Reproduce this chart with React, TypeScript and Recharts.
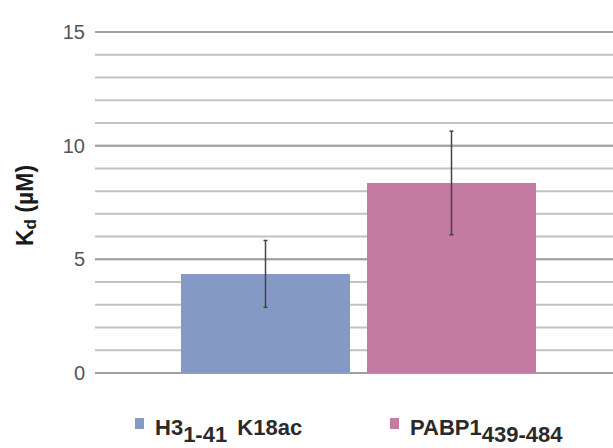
import React from 'react';
import { BarChart, Bar, XAxis, YAxis, CartesianGrid, ErrorBar } from 'recharts';

const categories = ['Kd'];
const h3Values = [4.36];
const h3Errors = [1.47];
const pabpValues = [8.36];
const pabpErrors = [2.28];
const majorTicks = [0, 5, 10, 15];
const minorTicks = [0, 1, 2, 3, 4, 5, 6, 7, 8, 9, 10, 11, 12, 13, 14, 15];
const seriesNames = ['H3', 'PABP1'];
const seriesSubs = ['1-41', '439-484'];
const seriesSuffix = [' K18ac', ''];
const seriesColors = ['#8599c5', '#c57aa1'];

const data = categories.map((c, i) => ({
  name: c,
  h3: h3Values[i],
  h3Err: h3Errors[i],
  pabp: pabpValues[i],
  pabpErr: pabpErrors[i],
}));

const FONT = '"Liberation Sans", Arial, Helvetica, sans-serif';

const YLabel = (props: any) => {
  const vb = props.viewBox || {};
  const cx = 25;
  const cy = (vb.y || 0) + (vb.height || 0) / 2 + 3;
  return (
    <text
      x={cx}
      y={cy}
      transform={`rotate(-90, ${cx}, ${cy})`}
      textAnchor="middle"
      dominantBaseline="central"
      fontFamily={FONT}
      fontWeight="bold"
      fontSize={23}
      fill="#1a1a1a"
    >
      K
      <tspan fontSize={17} dy={5}>d</tspan>
      <tspan dy={-5}> (µM)</tspan>
    </text>
  );
};

const legendX = [135, 390];

export default function App() {
  return (
    <div style={{ position: 'absolute', left: 0, top: 0, width: 613, height: 448, background: '#fff' }}>
      <BarChart
        width={613}
        height={448}
        data={data}
        margin={{ top: 32, right: 0, bottom: 75, left: 0 }}
        barSize={169}
        barGap={17}
      >
        <CartesianGrid vertical={false} stroke="#c2c2c2" strokeWidth={2} />
        <CartesianGrid vertical={false} horizontalValues={majorTicks} stroke="#a0a0a0" strokeWidth={2} />
        <XAxis dataKey="name" hide padding={{ left: 9, right: 0 }} />
        <YAxis
          width={95}
          domain={[0, 15]}
          ticks={minorTicks}
          interval={0}
          tickFormatter={(v: number) => (majorTicks.includes(v) ? String(v) : '')}
          tickSize={0}
          tickMargin={10}
          axisLine={false}
          tickLine={false}
          tick={{ fill: '#555', fontSize: 20, fontFamily: FONT }}
          label={{ content: YLabel }}
        />
        <Bar dataKey="h3" fill={seriesColors[0]} isAnimationActive={false}>
          <ErrorBar dataKey="h3Err" width={2} stroke="#444" strokeWidth={1.5} direction="y" isAnimationActive={false} />
        </Bar>
        <Bar dataKey="pabp" fill={seriesColors[1]} isAnimationActive={false}>
          <ErrorBar dataKey="pabpErr" width={2} stroke="#444" strokeWidth={1.5} direction="y" isAnimationActive={false} />
        </Bar>
      </BarChart>
      <svg width={613} height={448} style={{ position: 'absolute', left: 0, top: 0, pointerEvents: 'none' }}>
        {seriesNames.map((n, i) => (
          <g key={n}>
            <rect x={legendX[i]} y={418} width={9} height={11} fill={seriesColors[i]} />
            <text x={legendX[i] + 20} y={435} fontFamily={FONT} fontSize={22} fontWeight="bold" fill="#2a2a2a">
              {n}
              <tspan dy={7}>{seriesSubs[i]}</tspan>
              {seriesSuffix[i] ? <tspan dy={-7} dx={4}>{seriesSuffix[i]}</tspan> : null}
            </text>
          </g>
        ))}
      </svg>
    </div>
  );
}
